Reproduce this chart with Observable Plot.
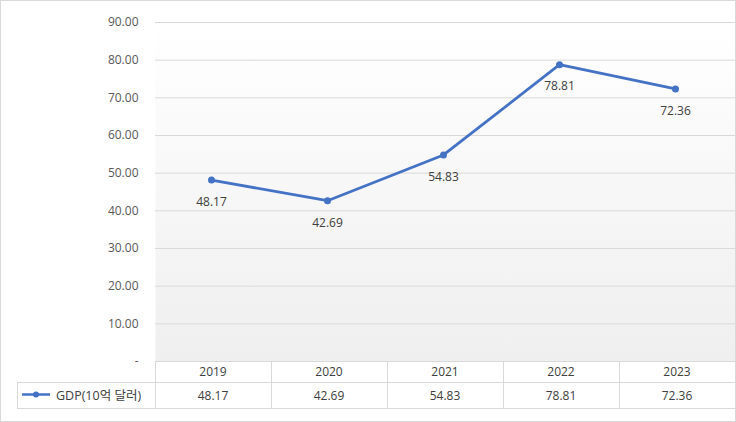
<!DOCTYPE html>
<html>
<head>
<meta charset="utf-8">
<script src="https://cdn.jsdelivr.net/npm/d3@7"></script>
<script src="https://cdn.jsdelivr.net/npm/@observablehq/plot@0.6"></script>
<style>
  html, body { margin: 0; padding: 0; background: #fff; }
  svg { display: block; }
</style>
</head>
<body>
<div id="chart"></div>
<script>
const years = ["2019", "2020", "2021", "2022", "2023"];
const gdp = [48.17, 42.69, 54.83, 78.81, 72.36];
const yTicks = [0, 10, 20, 30, 40, 50, 60, 70, 80, 90];
const seriesName = "GDP(10억 달러)";

const data = years.map((year, i) => ({year, value: gdp[i]}));
const lineColor = "#4472C4";
const gridColor = "#d9d9d9";
const fontFamily = "'Open Sans', 'Noto Sans CJK KR', sans-serif";

const defsMark = () => {
  const defs = d3.create("svg:defs");
  const g = defs.append("linearGradient").attr("id", "bgGrad")
    .attr("x1", 0).attr("y1", 0).attr("x2", 0).attr("y2", 1);
  g.append("stop").attr("offset", "0%").attr("stop-color", "#ffffff");
  g.append("stop").attr("offset", "100%").attr("stop-color", "#efefef");
  return defs.node();
};

const tableMark = (index, scales, values, dims) => {
  const x = scales.x, y = scales.y;
  const g = d3.create("svg:g");
  const bw = x(years[1]) - x(years[0]);
  const left = dims.marginLeft, right = dims.width - dims.marginRight;
  const top = y(0);
  const mid = top + 21;
  const bottom = top + 47;
  const legendLeft = 17;
  const line = (x1, y1, x2, y2) => g.append("line")
    .attr("x1", x1).attr("y1", y1).attr("x2", x2).attr("y2", y2)
    .attr("stroke", gridColor).attr("stroke-width", 1);
  line(left, top + 0.5, right, top + 0.5);
  line(legendLeft, mid + 0.5, right, mid + 0.5);
  line(legendLeft, bottom + 0.5, right, bottom + 0.5);
  line(legendLeft + 0.5, mid, legendLeft + 0.5, bottom);
  years.forEach(yr => {
    const xs = Math.round(x(yr)) + 0.5;
    line(xs, top, xs, bottom);
  });
  years.forEach((yr, i) => {
    const cx = x(yr) + bw / 2;
    g.append("text").attr("x", cx).attr("y", top + 15)
      .attr("text-anchor", "middle").attr("fill", "#404040")
      .attr("font-size", 12).text(yr);
    g.append("text").attr("x", cx).attr("y", mid + 18)
      .attr("text-anchor", "middle").attr("fill", "#404040")
      .attr("font-size", 12).text(gdp[i].toFixed(2));
  });
  const ly = mid + 12.5;
  g.append("line").attr("x1", 22).attr("x2", 50).attr("y1", ly).attr("y2", ly)
    .attr("stroke", lineColor).attr("stroke-width", 2.5);
  g.append("circle").attr("cx", 36).attr("cy", ly).attr("r", 3).attr("fill", lineColor);
  g.append("text").attr("x", 56).attr("y", mid + 18)
    .attr("text-anchor", "start")
    .attr("fill", "#404040").attr("font-size", 12.5).text(seriesName);
  g.append("rect").attr("x", 0.5).attr("y", 0.5)
    .attr("width", dims.width - 1).attr("height", dims.height - 1)
    .attr("fill", "none").attr("stroke", gridColor);
  return g.node();
};

const chart = Plot.plot({
  width: 736,
  height: 422,
  marginLeft: 155,
  marginRight: 1,
  marginTop: 22,
  marginBottom: 61,
  style: {fontFamily, background: "#fff", fontSize: "12px"},
  x: {type: "band", domain: years, padding: 0, axis: null},
  y: {domain: [0, 90], axis: null},
  marks: [
    defsMark,
    Plot.frame({fill: "url(#bgGrad)", stroke: null}),
    Plot.ruleY(yTicks, {stroke: gridColor, strokeWidth: 1}),
    Plot.axisY(yTicks, {
      tickSize: 0, tickPadding: 17, fontSize: 12, fill: "#595959", label: null,
      tickFormat: d => d === 0 ? "-" : d.toFixed(2)
    }),
    tableMark,
    Plot.line(data, {x: "year", y: "value", stroke: lineColor, strokeWidth: 2.8, dx: -2}),
    Plot.dot(data, {x: "year", y: "value", fill: lineColor, r: 3.5, dx: -2}),
    Plot.text(data, {x: "year", y: "value", text: d => d.value.toFixed(2), dy: 22, dx: -2, fill: "#404040", fontSize: 12})
  ]
});
document.getElementById("chart").append(chart);
</script>
</body>
</html>
